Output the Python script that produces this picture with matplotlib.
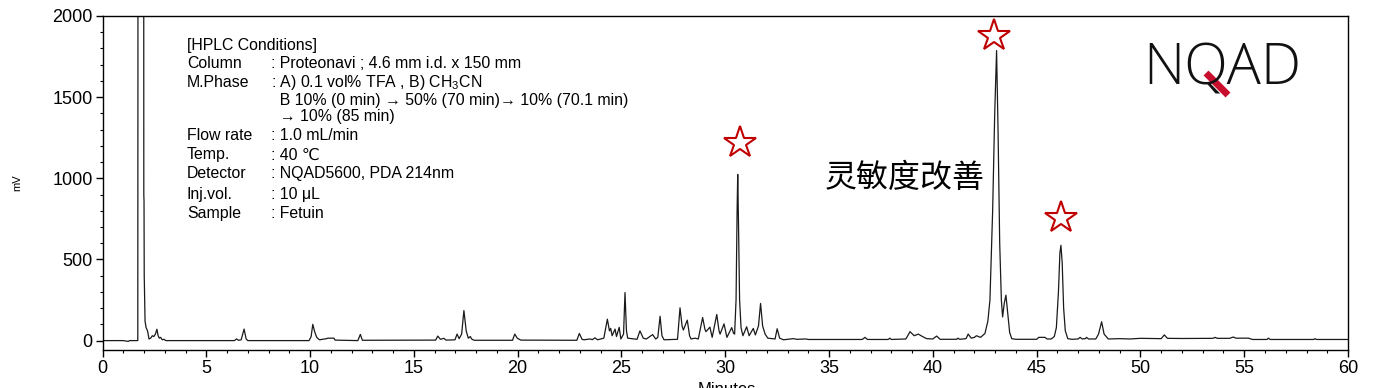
import matplotlib
matplotlib.use("Agg")
import matplotlib.pyplot as plt
from matplotlib.lines import Line2D
from matplotlib.ticker import MultipleLocator

plt.rcParams["font.family"] = ["Liberation Sans", "DejaVu Sans", "Noto Sans CJK SC"]
plt.rcParams["mathtext.fontset"] = "custom"
plt.rcParams["mathtext.rm"] = "Liberation Sans"

# chromatogram trace (retention time in min, signal in mV)
time_min = [
    0.0, 1.0, 1.24, 1.3, 1.70, 1.72, 1.98, 1.99, 2.0, 2.01, 2.05, 2.10, 2.17, 2.24,
    2.32, 2.40, 2.47, 2.55, 2.62, 2.68, 2.74, 2.80, 2.88, 2.96, 3.05,
    6.35, 6.46, 6.55, 6.68, 6.82, 6.92, 7.0,
    9.95, 10.05, 10.13, 10.22, 10.32, 10.45, 10.8, 10.85, 11.15, 11.2,
    12.3, 12.42, 12.52,
    16.05, 16.15, 16.28, 16.45, 16.55, 16.98, 17.08, 17.18, 17.3, 17.41, 17.52,
    17.62, 17.72, 17.78, 17.9,
    19.75, 19.86, 19.98, 20.15,
    22.85, 22.97, 23.1, 23.2, 23.48, 23.6, 23.72, 23.85, 24.15, 24.32, 24.42,
    24.48, 24.55, 24.69, 24.76, 24.89, 24.97, 25.1, 25.17, 25.24, 25.3,
    25.75, 25.89, 26.05, 26.2, 26.5, 26.65, 26.75, 26.86, 26.95, 27.05,
    27.7, 27.82, 27.92, 27.98, 28.17, 28.28, 28.35, 28.55, 28.7, 28.91, 29.02,
    29.07, 29.26, 29.37, 29.59, 29.7, 29.75, 29.94, 30.08, 30.31, 30.4,
    30.45, 30.52, 30.57, 30.6, 30.64, 30.69, 30.76, 30.85, 31.03, 31.15, 31.35,
    31.45, 31.6, 31.7, 31.8, 31.92, 32.05, 32.4, 32.5, 32.62, 32.8,
    33.28, 33.45, 33.9, 34.0, 36.6, 36.73, 36.85, 37.85, 37.93, 38.0,
    38.7, 38.9, 39.1, 39.3, 39.5, 39.7, 40.0, 40.18, 40.35, 41.15, 41.2, 41.3,
    41.6, 41.7, 41.85, 42.0, 42.1, 42.3, 42.51, 42.65, 42.75, 42.88, 42.98,
    43.07, 43.14, 43.22, 43.3, 43.36, 43.44, 43.52, 43.6, 43.7, 43.8, 44.0,
    45.0, 45.1, 45.4, 45.5, 45.7, 45.85, 45.95, 46.05, 46.12, 46.17, 46.23,
    46.3, 46.38, 46.5, 46.7, 47.0, 47.09, 47.2, 47.35, 47.4, 47.5,
    47.85, 47.98, 48.13, 48.25, 48.45, 49.0, 49.5, 50.0, 51.0, 51.15, 51.3,
    52.0, 53.5, 53.59, 53.7, 54.3, 54.47, 54.6, 55.2, 55.4, 56.1, 56.16,
    56.25, 58.35, 58.4, 58.48, 60.0,
]
signal_mv = [
    0, 0, -5, 0, 0, 5000, 5000, 900, 860, 400, 120, 80, 60, 10,
    15, 30, 25, 40, 70, 30, 15, 20, 5, 8, 0,
    0, 10, 2, 5, 71, 10, 0,
    0, 25, 100, 55, 20, 5, 12, 15, 15, 3,
    0, 38, 2,
    3, 28, 8, 14, 3, 5, 40, 12, 40, 185, 60,
    15, 25, 10, 2,
    2, 40, 15, 3,
    2, 44, 8, 5, 10, 6, 17, 5, 15, 132, 60,
    75, 30, 71, 25, 82, 10, 40, 296, 60, 15,
    8, 60, 15, 10, 37, 10, 20, 150, 30, 5,
    8, 202, 90, 65, 126, 30, 10, 15, 10, 142, 70,
    55, 83, 20, 161, 60, 40, 103, 20, 80, 45,
    40, 250, 800, 1024, 700, 250, 80, 30, 85, 30, 75,
    35, 90, 229, 90, 40, 15, 10, 73, 15, 5,
    12, 8, 10, 7, 7, 20, 7, 7, 15, 7,
    10, 55, 30, 40, 25, 12, 10, 28, 8, 8, 15, 8,
    12, 40, 15, 20, 30, 20, 44, 120, 250, 800, 1400,
    1787, 1300, 600, 250, 146, 230, 280, 180, 50, 12, 8,
    8, 20, 20, 10, 10, 25, 80, 300, 540, 587, 480,
    200, 60, 12, 8, 10, 20, 10, 12, 20, 10,
    10, 40, 116, 40, 10, 12, 10, 14, 12, 35, 14,
    13, 14, 20, 14, 14, 22, 15, 15, 7, 7, 15,
    7, 7, 12, 7, 7,
]

# starred peaks (marker positions above the peaks)
star_time = [30.71, 42.94, 46.17]
star_mv = [1217, 1877, 755]

cond_labels = ["Column", "M.Phase", "", "", "Flow rate", "Temp.", "Detector",
               "Inj.vol.", "Sample"]
cond_values = [
    ": Proteonavi ; 4.6 mm i.d. x 150 mm",
    r": A) 0.1 vol% TFA , B) CH$_3$CN",
    "  B 10% (0 min) \u2192 50% (70 min)\u2192 10% (70.1 min)",
    "  \u2192 10% (85 min)",
    ": 1.0 mL/min",
    ": 40 \u2103",
    ": NQAD5600, PDA 214nm",
    ": 10 \u03bcL",
    ": Fetuin",
]
cond_y = [0.859, 0.802, 0.746, 0.698, 0.641, 0.584, 0.527, 0.467, 0.410]

fig = plt.figure(figsize=(13.74, 3.88), dpi=100)
ax = fig.add_axes([0.0746, 0.0979, 0.9065, 0.8609])

ax.plot(time_min, signal_mv, color="#1a1a1a", linewidth=0.9)
ax.plot(star_time, star_mv, linestyle="none", marker="*", markersize=24,
        markerfacecolor="white", markeredgecolor="#c00000", markeredgewidth=1.5)

ax.set_xlim(0, 60)
ax.set_ylim(-58, 2000)
ax.xaxis.set_major_locator(MultipleLocator(5))
ax.xaxis.set_minor_locator(MultipleLocator(1))
ax.yaxis.set_major_locator(MultipleLocator(500))
ax.yaxis.set_minor_locator(MultipleLocator(100))
ax.tick_params(axis="both", which="major", direction="out", length=5, width=1,
               labelsize=13, pad=2)
ax.tick_params(axis="both", which="minor", direction="out", length=2.5, width=0.8)
for sp in ax.spines.values():
    sp.set_linewidth(1.0)

# HPLC conditions box text
ax.text(0.0678, 0.913, "[HPLC Conditions]", transform=ax.transAxes,
        fontsize=11.4, va="center", ha="left")
for lab, val, yy in zip(cond_labels, cond_values, cond_y):
    if lab:
        ax.text(0.0678, yy, lab, transform=ax.transAxes, fontsize=11.4,
                va="center", ha="left")
    ax.text(0.1353, yy, val, transform=ax.transAxes, fontsize=11.4,
            va="center", ha="left")

ax.text(38.66, 1005, "灵敏度改善", fontsize=23, ha="center", va="center",
        family=["Noto Sans CJK SC"], fontweight="light")

# NQAD logo
fig.text(1143 / 1374, 1 - 85 / 388, "NQAD", fontsize=41,
         family=["Open Sans", "Roboto", "DejaVu Sans"],
         fontweight="light", ha="left", va="baseline", color="#111111")
fig.add_artist(Line2D([1206 / 1374, 1228 / 1374], [1 - 73 / 388, 1 - 95 / 388],
                      transform=fig.transFigure, color="#c8102e", linewidth=5,
                      solid_capstyle="butt"))

fig.text(17 / 1374, 1 - 183 / 388, "mV", fontsize=8, rotation=90,
         ha="center", va="center")
fig.text(727 / 1374, 1 - 382 / 388, "Minutes", fontsize=12, ha="center", va="top")

fig.savefig("out.png", dpi=100)
